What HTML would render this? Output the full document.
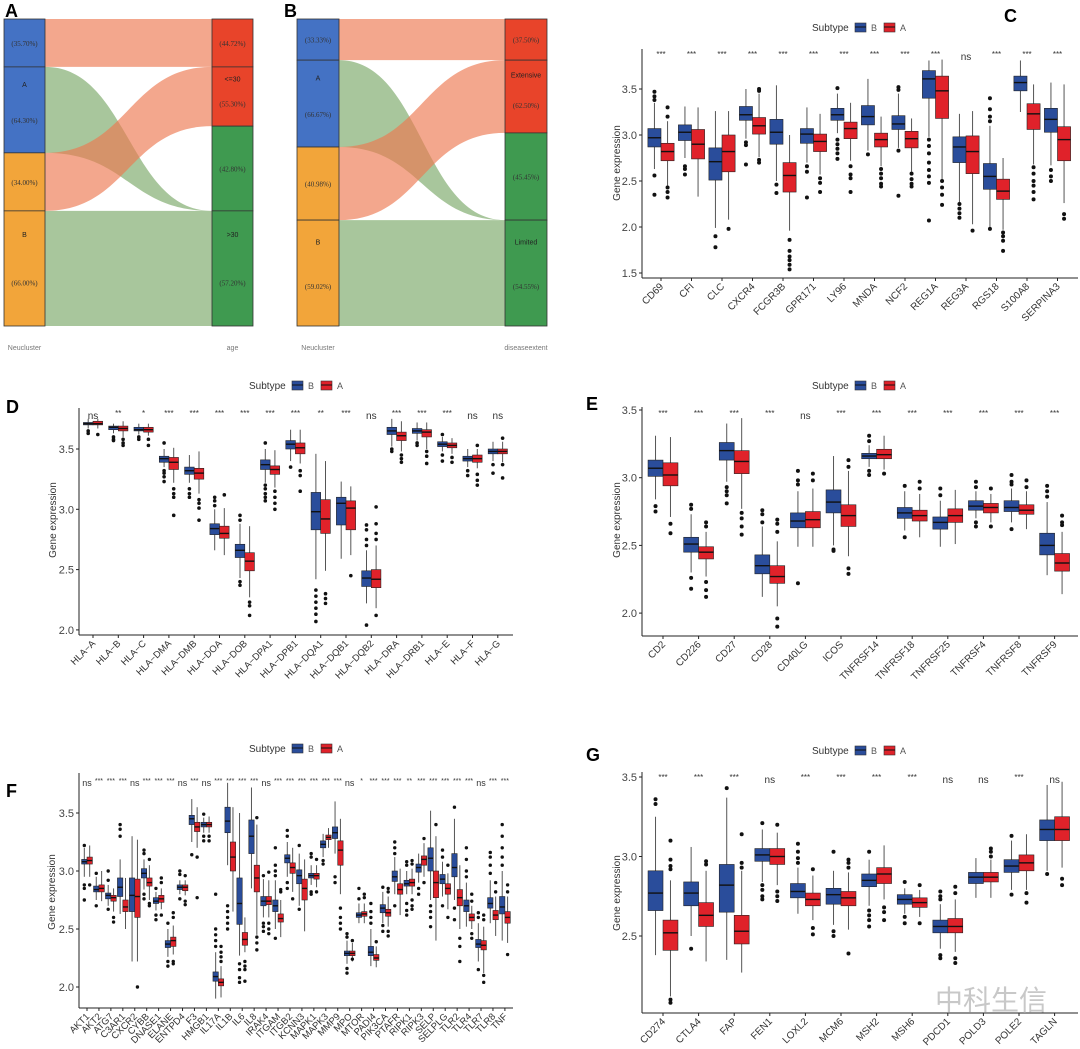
<!DOCTYPE html>
<html><head><meta charset="utf-8"><style>
html,body{margin:0;padding:0;background:#fff;}
svg{display:block;font-family:"Liberation Sans","Noto Sans CJK SC",sans-serif;}
</style></head><body>
<svg id="fig" width="1080" height="1049" viewBox="0 0 1080 1049" xmlns="http://www.w3.org/2000/svg">
<rect width="1080" height="1049" fill="#fff"/>
<g id="labels">
<text x="5" y="17" font-size="18" font-weight="bold">A</text>
<text x="284" y="17" font-size="18" font-weight="bold">B</text>
<text x="1004" y="22" font-size="18" font-weight="bold">C</text>
<text x="6" y="413" font-size="18" font-weight="bold">D</text>
<text x="586" y="410" font-size="18" font-weight="bold">E</text>
<text x="6" y="797" font-size="18" font-weight="bold">F</text>
<text x="586" y="761" font-size="18" font-weight="bold">G</text>
<text x="935" y="1010" font-size="28" fill="#c8c8c8">中科生信</text>
</g>
</svg>
<script>
// ---------- Sankey data ----------
const sankeyALeft = [0.156, 0.436, 0.625];
const sankeyARight = [0.156, 0.349, 0.625];
const sankeyBLeft = [0.134, 0.417, 0.655];
const sankeyBRight = [0.134, 0.371, 0.655];
const sankeyALeftText = [["(35.70%)"],["A","(64.30%)"],["(34.00%)"],["B","(66.00%)"]];
const sankeyARightText = [["(44.72%)"],["<=30","(55.30%)"],["(42.80%)"],[">30","(57.20%)"]];
const sankeyBLeftText = [["(33.33%)"],["A","(66.67%)"],["(40.98%)"],["B","(59.02%)"]];
const sankeyBRightText = [["(37.50%)"],["Extensive","(62.50%)"],["(45.45%)"],["Limited","(54.55%)"]];

// ---------- Panel C ----------
const cGenes = ["CD69","CFI","CLC","CXCR4","FCGR3B","GPR171","LY96","MNDA","NCF2","REG1A","REG3A","RGS18","S100A8","SERPINA3"];
const cSig = ["***","***","***","***","***","***","***","***","***","***","ns","***","***","***"];
const cB = [[2.87,2.97,3.07,2.63,3.35],[2.94,3.03,3.11,2.75,3.31],[2.51,2.71,2.86,1.99,3.26],[3.16,3.22,3.31,2.96,3.5],[2.9,3.03,3.17,2.5,3.54],[2.91,3.01,3.07,2.7,3.3],[3.16,3.22,3.29,3.02,3.45],[3.11,3.2,3.32,2.83,3.61],[3.06,3.12,3.21,2.86,3.45],[3.4,3.61,3.7,2.98,3.81],[2.7,2.87,2.98,2.27,3.23],[2.41,2.55,2.69,2.0,3.1],[3.48,3.57,3.64,3.25,3.81],[3.03,3.17,3.29,2.67,3.57]];
const cA = [[2.72,2.82,2.91,2.45,3.15],[2.74,2.9,3.06,2.33,3.3],[2.6,2.82,3.0,2.08,3.26],[3.01,3.1,3.19,2.76,3.45],[2.38,2.56,2.7,1.96,3.0],[2.82,2.93,3.01,2.57,3.23],[2.96,3.07,3.14,2.72,3.35],[2.87,2.95,3.02,2.66,3.2],[2.86,2.96,3.04,2.6,3.18],[3.18,3.48,3.64,2.52,3.82],[2.58,2.82,2.99,2.03,3.26],[2.3,2.39,2.52,1.97,2.75],[3.06,3.23,3.34,2.68,3.55],[2.72,2.95,3.09,2.26,3.55]];
const cBOut = [[3.38,3.42,3.47,2.56,2.35],[2.66,2.63,2.57],[1.9,1.78],[2.92,2.89,2.68],[2.46,2.37],[2.66,2.6,2.32],[3.51,2.95,2.9,2.85,2.8,2.74],[2.79],[3.52,3.49,2.83,2.34],[2.95,2.88,2.8,2.7,2.62,2.55,2.48,2.07],[2.25,2.2,2.15,2.1],[3.4,3.28,3.2,3.15,1.98],[],[2.62,2.55,2.5]];
const cAOut = [[3.2,3.3,2.43,2.38,2.32],[],[1.98],[3.48,3.5,2.73,2.7],[1.86,1.74,1.68,1.64,1.59,1.54],[2.53,2.48,2.38],[2.66,2.57,2.53,2.38],[2.63,2.58,2.53,2.47,2.44],[2.58,2.52,2.47,2.44],[2.5,2.43,2.35,2.24],[1.96],[1.94,1.9,1.85,1.74],[2.65,2.58,2.5,2.45,2.38,2.3],[2.14,2.09]];
const cTicks = [3.5,3.0,2.5,2.0,1.5];

// ---------- Panel D ----------
const dGenes = ["HLA\u2212A","HLA\u2212B","HLA\u2212C","HLA\u2212DMA","HLA\u2212DMB","HLA\u2212DOA","HLA\u2212DOB","HLA\u2212DPA1","HLA\u2212DPB1","HLA\u2212DQA1","HLA\u2212DQB1","HLA\u2212DQB2","HLA\u2212DRA","HLA\u2212DRB1","HLA\u2212E","HLA\u2212F","HLA\u2212G"];
const dSig = ["ns","**","*","***","***","***","***","***","***","**","***","ns","***","***","***","ns","ns"];
const dB = [[3.7,3.71,3.72,3.67,3.75],[3.66,3.68,3.69,3.63,3.71],[3.65,3.66,3.68,3.62,3.71],[3.39,3.42,3.44,3.35,3.5],[3.29,3.32,3.35,3.22,3.45],[2.79,2.84,2.88,2.66,3.0],[2.6,2.66,2.71,2.43,2.88],[3.33,3.37,3.41,3.22,3.5],[3.5,3.54,3.57,3.4,3.66],[2.83,2.98,3.14,2.42,3.46],[2.87,3.05,3.1,2.59,3.23],[2.36,2.43,2.49,2.22,2.66],[3.62,3.65,3.68,3.52,3.75],[3.63,3.65,3.67,3.57,3.72],[3.52,3.54,3.56,3.48,3.6],[3.4,3.42,3.44,3.35,3.5],[3.46,3.48,3.5,3.4,3.56]];
const dA = [[3.7,3.71,3.73,3.67,3.75],[3.65,3.67,3.69,3.6,3.73],[3.64,3.66,3.68,3.61,3.71],[3.33,3.39,3.43,3.22,3.51],[3.25,3.3,3.34,3.13,3.48],[2.76,2.8,2.86,2.62,3.01],[2.49,2.57,2.64,2.27,2.86],[3.29,3.33,3.36,3.18,3.49],[3.46,3.51,3.55,3.38,3.66],[2.8,2.92,3.08,2.49,3.4],[2.83,3.01,3.07,2.62,3.19],[2.35,2.42,2.5,2.18,2.7],[3.57,3.61,3.64,3.48,3.73],[3.6,3.64,3.66,3.5,3.72],[3.51,3.53,3.55,3.46,3.59],[3.39,3.42,3.45,3.34,3.5],[3.46,3.48,3.5,3.39,3.56]];
const dBOut = [[3.65,3.63],[3.6,3.58,3.57],[3.6,3.58],[3.55,3.32,3.3,3.27,3.23],[3.17,3.13,3.1],[3.03,3.07,3.1],[2.91,2.95,2.4,2.37],[3.55,3.2,3.17,3.13,3.1,3.07],[3.35],[2.33,2.28,2.23,2.18,2.13,2.07],[],[2.75,2.7,2.83,2.87,2.04],[3.5,3.48],[3.55,3.53],[3.45,3.4,3.62],[3.32,3.28],[3.37,3.3]];
const dAOut = [[3.62],[3.58,3.55,3.53],[3.58,3.53],[3.17,3.13,3.1,2.95],[3.08,3.05,3.01,2.91],[3.12],[2.23,2.2,2.12],[3.15,3.1,3.05,3.0],[3.32,3.28,3.15],[2.3,2.26,2.22],[2.45],[2.75,2.8,2.88,3.02,2.12],[3.45,3.42,3.39],[3.48,3.44,3.38],[3.43,3.39],[3.29,3.24,3.2,3.53],[3.59,3.37,3.26]];
const dTicks = [3.5,3.0,2.5,2.0];

// ---------- Panel E ----------
const eGenes = ["CD2","CD226","CD27","CD28","CD40LG","ICOS","TNFRSF14","TNFRSF18","TNFRSF25","TNFRSF4","TNFRSF8","TNFRSF9"];
const eSig = ["***","***","***","***","ns","***","***","***","***","***","***","***"];
const eB = [[3.01,3.07,3.13,2.84,3.31],[2.45,2.51,2.56,2.3,2.73],[3.13,3.2,3.26,2.97,3.4],[2.29,2.35,2.43,2.12,2.64],[2.63,2.68,2.74,2.49,2.9],[2.74,2.82,2.91,2.5,3.16],[3.14,3.16,3.18,3.08,3.24],[2.7,2.74,2.78,2.61,2.9],[2.62,2.67,2.71,2.49,2.83],[2.76,2.79,2.83,2.7,2.9],[2.75,2.78,2.83,2.67,2.92],[2.43,2.5,2.59,2.28,2.82]];
const eA = [[2.94,3.02,3.11,2.71,3.3],[2.4,2.45,2.49,2.27,2.6],[3.03,3.12,3.2,2.77,3.44],[2.22,2.27,2.35,2.05,2.53],[2.63,2.69,2.75,2.49,2.92],[2.64,2.72,2.8,2.42,3.05],[3.14,3.17,3.21,3.06,3.31],[2.68,2.72,2.76,2.56,2.88],[2.67,2.72,2.77,2.51,2.91],[2.74,2.78,2.81,2.67,2.88],[2.73,2.76,2.8,2.62,2.9],[2.31,2.37,2.44,2.14,2.6]];
const eBOut = [[2.79,2.75],[2.8,2.77,2.26,2.18],[2.93,2.9,2.87,2.81],[2.67,2.73,2.76],[2.95,2.98,3.05,2.22],[2.47,2.46],[3.27,3.31,3.05,3.02],[2.94,2.56],[2.87,2.92],[2.93,2.97,2.67,2.64],[2.95,2.97,3.02,2.62],[2.86,2.9,2.94]];
const eAOut = [[2.66,2.59],[2.67,2.64,2.23,2.17,2.12],[2.74,2.7,2.64,2.58],[2.6,2.66,2.69,1.96,1.9],[2.98,3.03],[3.08,3.13,2.33,2.29],[3.03],[2.92,2.97],[],[2.92,2.64],[2.93,2.98],[2.65,2.67,2.72]];
const eTicks = [3.5,3.0,2.5,2.0];

// ---------- Panel F ----------
const fGenes = ["AKT1","AKT2","ATG7","C3AR1","CXCR2","CYBB","DNASE1","ELANE","ENTPD4","F3","HMGB1","IL17A","IL1B","IL6","IL8","IRAK4","ITGAM","ITGB2","KCNN3","MAPK1","MAPK3","MMP9","MPO","MTOR","PADI4","PIK3CA","PTAFR","RIPK1","RIPK3","SELP","SELPLG","TLR2","TLR4","TLR7","TLR8","TNF"];
const fSig = ["ns","***","***","***","ns","***","***","***","ns","***","ns","***","***","***","***","ns","***","***","***","***","***","***","ns","*","***","***","***","**","***","***","***","***","***","ns","***","***"];
const fB = [[3.06,3.08,3.1,2.95,3.2],[2.82,2.84,2.87,2.75,2.95],[2.76,2.79,2.81,2.7,2.88],[2.78,2.86,2.94,2.63,3.1],[2.65,2.79,2.94,2.22,3.3],[2.94,2.98,3.02,2.84,3.1],[2.72,2.74,2.77,2.66,2.82],[2.34,2.37,2.4,2.26,2.5],[2.84,2.86,2.88,2.8,2.92],[3.4,3.45,3.48,3.25,3.62],[3.38,3.4,3.42,3.33,3.46],[2.05,2.09,2.13,1.9,2.3],[3.33,3.43,3.55,3.05,3.76],[2.54,2.72,2.94,2.27,3.5],[3.15,3.3,3.44,2.85,3.72],[2.7,2.74,2.78,2.6,2.93],[2.65,2.7,2.75,2.5,2.92],[3.07,3.11,3.14,2.95,3.25],[2.89,2.96,3.01,2.7,3.15],[2.94,2.96,2.98,2.88,3.05],[3.2,3.23,3.26,3.12,3.32],[3.28,3.33,3.38,3.15,3.6],[2.27,2.29,2.31,2.2,2.4],[2.6,2.62,2.64,2.55,2.72],[2.27,2.3,2.35,2.18,2.5],[2.64,2.68,2.71,2.55,2.82],[2.91,2.95,3.0,2.8,3.12],[2.87,2.89,2.92,2.8,3.0],[2.99,3.03,3.06,2.9,3.15],[3.0,3.11,3.2,2.75,3.52],[2.89,2.93,2.97,2.78,3.08],[2.95,3.03,3.15,2.75,3.45],[2.65,2.7,2.75,2.52,2.9],[2.34,2.37,2.41,2.22,2.55],[2.68,2.72,2.77,2.55,2.92],[2.63,2.69,2.78,2.4,3.0]];
const fA = [[3.06,3.09,3.12,2.95,3.22],[2.82,2.85,2.88,2.74,3.0],[2.74,2.77,2.79,2.65,2.85],[2.65,2.69,2.75,2.5,2.94],[2.6,2.78,2.93,2.22,3.27],[2.87,2.9,2.94,2.75,3.05],[2.73,2.76,2.79,2.67,2.85],[2.35,2.4,2.43,2.28,2.53],[2.83,2.86,2.88,2.79,2.92],[3.34,3.38,3.42,3.2,3.55],[3.38,3.4,3.42,3.33,3.47],[2.01,2.04,2.07,1.91,2.18],[3.0,3.12,3.25,2.65,3.55],[2.36,2.41,2.47,2.3,2.6],[2.82,2.94,3.05,2.45,3.4],[2.71,2.74,2.78,2.6,2.92],[2.56,2.59,2.63,2.43,2.75],[2.98,3.03,3.07,2.82,3.2],[2.75,2.85,2.93,2.48,3.1],[2.93,2.96,2.98,2.86,3.05],[3.27,3.29,3.31,3.2,3.37],[3.05,3.18,3.26,2.8,3.45],[2.27,2.29,2.31,2.22,2.38],[2.61,2.63,2.65,2.55,2.72],[2.23,2.25,2.28,2.17,2.35],[2.61,2.64,2.67,2.52,2.78],[2.8,2.84,2.89,2.62,3.02],[2.87,2.9,2.93,2.8,3.02],[3.05,3.1,3.13,2.95,3.24],[2.77,2.9,3.0,2.4,3.3],[2.8,2.85,2.89,2.67,2.98],[2.7,2.77,2.84,2.5,3.05],[2.57,2.6,2.63,2.5,2.7],[2.32,2.36,2.4,2.12,2.52],[2.58,2.62,2.66,2.44,2.78],[2.55,2.6,2.65,2.38,2.78]];
const fBOut = [[3.22,2.88,2.85,2.75],[2.98,2.7],[2.92,3.0,2.67],[3.3,3.36,3.4],[],[3.15,3.18,2.8,2.76],[2.85,2.62,2.58],[2.55,2.22,2.18],[2.97,3.0,2.76],[3.14],[3.49,3.3,3.26],[2.35,2.4,2.45,2.5,2.8],[2.7,2.65,2.6,2.55,2.5],[2.2,2.15,2.08,2.04],[],[2.96,2.55,2.52,2.48],[2.96,3.0,3.05,3.2,2.42],[3.3,3.35,2.85,2.9],[2.67,3.22],[3.12,3.15,2.82,2.8],[3.09,3.06],[2.95,2.9],[2.43,2.46,2.16,2.12],[2.76,2.85],[2.55,2.6,2.65,2.72],[2.86,2.53,2.48],[3.15,3.2,3.25,2.7],[3.05,3.08,2.72,2.66,2.62],[2.85,2.8],[2.7,2.65,2.6,2.52],[3.12,3.18,2.7],[3.55,2.68,2.58],[2.95,3.0,3.1,3.2],[2.6,2.64,2.15],[2.98,3.05,3.12,3.16],[3.05,3.12,3.2,3.3,3.4]];
const fAOut = [[2.88],[],[2.6,2.56],[],[2.0],[3.1,2.72,2.7],[2.9,2.94,2.62],[2.6,2.64,2.22,2.2],[2.96,2.74,2.71],[3.12,2.77],[3.3,3.26],[2.22,2.26,2.3,2.35],[],[2.22,2.18,2.15,2.05],[3.46,2.43,2.38,2.32],[2.99,2.55,2.5,2.46],[2.82,2.84],[2.76],[],[3.1,2.82],[],[2.68,2.6,2.55,2.5],[2.4,2.24],[2.77,2.8],[2.39],[2.82,2.85,2.48,2.44],[],[3.06,3.09,2.75,2.7,2.67],[3.28,2.9],[3.4],[3.05,2.6],[2.42,2.35,2.22],[2.74,2.8,2.46,2.42],[2.58,2.62,2.1,2.04],[2.82,2.9],[2.82,2.88,2.28]];
const fTicks = [3.5,3.0,2.5,2.0];

// ---------- Panel G ----------
const gGenes = ["CD274","CTLA4","FAP","FEN1","LOXL2","MCM6","MSH2","MSH6","PDCD1","POLD3","POLE2","TAGLN"];
const gSig = ["***","***","***","ns","***","***","***","***","ns","ns","***","ns"];
const gB = [[2.66,2.77,2.91,2.38,3.25],[2.69,2.77,2.84,2.5,3.06],[2.65,2.82,2.95,2.35,3.37],[2.97,3.01,3.05,2.84,3.17],[2.74,2.78,2.83,2.64,2.93],[2.7,2.76,2.8,2.57,2.91],[2.81,2.85,2.89,2.69,2.98],[2.7,2.73,2.76,2.64,2.8],[2.52,2.56,2.6,2.42,2.7],[2.83,2.87,2.9,2.74,2.99],[2.9,2.94,2.98,2.79,3.1],[3.1,3.17,3.23,2.91,3.45]];
const gA = [[2.41,2.52,2.6,2.12,2.85],[2.56,2.63,2.71,2.34,2.91],[2.45,2.53,2.63,2.27,2.91],[2.95,3.0,3.05,2.82,3.15],[2.69,2.73,2.77,2.6,2.88],[2.69,2.74,2.78,2.54,2.9],[2.83,2.89,2.93,2.73,3.07],[2.68,2.71,2.74,2.62,2.79],[2.52,2.56,2.61,2.4,2.73],[2.84,2.87,2.9,2.74,2.98],[2.91,2.96,3.01,2.79,3.14],[3.1,3.17,3.25,2.93,3.47]];
const gBOut = [[3.33,3.36],[2.42],[3.43],[3.21,2.82,2.79,2.75,2.73],[2.96,2.99,3.03,3.08],[3.03,2.53,2.5],[3.03,2.66,2.63,2.6,2.56],[2.84,2.62,2.58],[2.73,2.75,2.78,2.38,2.36],[],[3.13,2.76],[2.89]];
const gAOut = [[2.92,2.94,2.98,3.1,2.1,2.08],[2.95,2.97],[2.93,2.96,3.14],[3.2,2.78,2.75,2.72],[2.92,2.55,2.51],[2.93,2.96,2.98,2.39],[2.68,2.65,2.6],[2.82,2.58],[2.77,2.81,2.36,2.33],[3.0,3.03,3.05],[2.77,2.71],[2.86,2.82]];
const gTicks = [3.5,3.0,2.5];

const NS = "http://www.w3.org/2000/svg";
const svg = document.getElementById("fig");
function mk(tag, attrs, parent) {
  const e = document.createElementNS(NS, tag);
  for (const k in attrs) e.setAttribute(k, attrs[k]);
  (parent || svg).appendChild(e);
  return e;
}

// ---------- Sankey ----------
function drawSankey(g, lx, rx, bw, top, bot, lf, rf, lText, rText, leftName, rightName, key) {
  const H = bot - top;
  const yl = [top].concat(lf.map(f => top + f * H)).concat([bot]);
  const yr = [top].concat(rf.map(f => top + f * H)).concat([bot]);
  const x1 = lx + bw, x2 = rx, mx = (x1 + x2) / 2;
  const flows = [
    [yl[0], yl[1], yr[0], yr[1], "salmon"],
    [yl[1], yl[2], yr[3], yr[4] - (yl[4]-yl[3]), "green"],
    [yl[3], yl[4], yr[4] - (yl[4]-yl[3]), yr[4], "green"],
    [yl[2], yl[3], yr[1], yr[2], "salmon"]
  ];
  flows.forEach((f, i) => {
    const d = `M${x1},${f[0]} C${mx},${f[0]} ${mx},${f[2]} ${x2},${f[2]} L${x2},${f[3]} C${mx},${f[3]} ${mx},${f[1]} ${x1},${f[1]} Z`;
    const p = mk("path", {d: d, fill: f[4] === "salmon" ? "rgb(236,120,80)" : "rgb(110,160,90)", "fill-opacity": f[4] === "salmon" ? 0.65 : 0.6}, g);
    
    
  });
  const lc = ["#4472c4", "#4472c4", "#f2a53a", "#f2a53a"];
  const rc = ["#e8442a", "#e8442a", "#3f9a50", "#3f9a50"];
  for (let i = 0; i < 4; i++) {
    const r1 = mk("rect", {x: lx, y: yl[i], width: bw, height: yl[i+1]-yl[i], fill: lc[i], stroke: "#333", "stroke-width": 0.8}, g);
    
    
    const r2 = mk("rect", {x: rx, y: yr[i], width: bw, height: yr[i+1]-yr[i], fill: rc[i], stroke: "#333", "stroke-width": 0.8}, g);
    
    
  }
  function labels(x, ys, texts, side) {
    for (let i = 0; i < 4; i++) {
      const t = texts[i];
      const y0 = ys[i], y1 = ys[i+1];
      if (t.length === 1) {
        const e = mk("text", {x: x, y: (y0 + y1) / 2 + 3, "font-size": 7, "text-anchor": "middle", fill: "#333", "font-family": "Liberation Serif, serif"}, g);
        e.textContent = t[0];
        
        
      } else {
        const a = mk("text", {x: x, y: y0 + (y1 - y0) * 0.2 + 3, "font-size": 7, "text-anchor": "middle", fill: "#222"}, g);
        a.textContent = t[0];
        
        
        const b = mk("text", {x: x, y: y0 + (y1 - y0) * 0.62 + 3, "font-size": 7, "text-anchor": "middle", fill: "#333", "font-family": "Liberation Serif, serif"}, g);
        b.textContent = t[1];
        
        
      }
    }
  }
  labels(lx + bw / 2, yl, lText, "left");
  labels(rx + bw / 2, yr, rText, "right");
  const n1 = mk("text", {x: lx + bw / 2, y: 350, "font-size": 7, "text-anchor": "middle", fill: "#777"}, g);
  n1.textContent = leftName;
  
  
  const n2 = mk("text", {x: rx + bw / 2, y: 350, "font-size": 7, "text-anchor": "middle", fill: "#777"}, g);
  n2.textContent = rightName;
  
  
}
const gA_ = mk("g", {});


drawSankey(gA_, 4, 212, 41, 19, 326, sankeyALeft, sankeyARight, sankeyALeftText, sankeyARightText, "Neucluster", "age", "sankey-a");
const gB_ = mk("g", {});


drawSankey(gB_, 297, 505, 42, 19, 326, sankeyBLeft, sankeyBRight, sankeyBLeftText, sankeyBRightText, "Neucluster", "diseaseextent", "sankey-b");

// ---------- Boxplot panels ----------
function drawPanel(p) {
  const g = mk("g", {});
  
  
  const y = v => p.yRef - (v - p.vRef) * p.ppu;
  const xc = i => p.cx0 + i * p.sp;
  const w = p.sp * p.bwf;
  const ya = mk("line", {x1: p.ax, y1: p.top, x2: p.ax, y2: p.bot, stroke: "#222", "stroke-width": 1}, g);
  
  
  const xa = mk("line", {x1: p.ax, y1: p.bot, x2: p.ar, y2: p.bot, stroke: "#222", "stroke-width": 1}, g);
  
  
  p.ticks.forEach(t => {
    const tm = mk("line", {x1: p.ax - 3, y1: y(t), x2: p.ax, y2: y(t), stroke: "#222", "stroke-width": 1}, g);
    
    
    const tl = mk("text", {x: p.ax - 5, y: y(t) + 4, "font-size": 11, "text-anchor": "end", fill: "#444"}, g);
    tl.textContent = t.toFixed(1);
    
    
  });
  const yt = mk("text", {x: p.titleX, y: p.titleY, "font-size": 10, "text-anchor": "middle", fill: "#333", transform: `rotate(-90 ${p.titleX} ${p.titleY})`}, g);
  yt.textContent = "Gene expression";
  
  
  const lg = mk("g", {}, g);
  
  
  const lt = mk("text", {x: p.legX, y: p.legY + 4, "font-size": 10, fill: "#333"}, lg);
  lt.textContent = "Subtype";
  
  
  [["B", "#2a4d9b", 43], ["A", "#e0222a", 72]].forEach(s => {
    const bx = p.legX + s[2];
    const r = mk("rect", {x: bx, y: p.legY - 4, width: 11, height: 9, fill: s[1], stroke: "#333", "stroke-width": 0.6}, lg);
    
    
    mk("line", {x1: bx, y1: p.legY, x2: bx + 11, y2: p.legY, stroke: "#111", "stroke-width": 1}, lg);
    const tx = mk("text", {x: bx + 16, y: p.legY + 4, "font-size": 9, fill: "#555"}, lg);
    tx.textContent = s[0];
    
    
  });
  p.genes.forEach((gene, i) => {
    const c = xc(i);
    [[p.B, p.BO, c - w / 2, "#2a4d9b", "b"], [p.A, p.AO, c + w / 2, "#e0222a", "a"]].forEach(s => {
      const d = s[0][i];
      const bx = s[2];
      const wl = mk("line", {x1: bx, y1: y(d[3]), x2: bx, y2: y(d[4]), stroke: "#555", "stroke-width": 1}, g);
      
      
      const r = mk("rect", {x: bx - w / 2, y: y(d[2]), width: w, height: Math.max(0.5, y(d[0]) - y(d[2])), fill: s[3], stroke: "#222", "stroke-width": 0.6}, g);
      
      
      const m = mk("line", {x1: bx - w / 2, y1: y(d[1]), x2: bx + w / 2, y2: y(d[1]), stroke: "#111", "stroke-width": 1.4}, g);
      
      
      s[1][i].forEach(o => {
        const pt = mk("circle", {cx: bx, cy: y(o), r: p.pr, fill: "#111"}, g);
        
        
      });
    });
    const sg = mk("text", {x: c, y: p.sigY + (p.sig[i] === "ns" ? 3 : 0), "font-size": p.sig[i] === "ns" ? p.nsf : p.stf, "text-anchor": "middle", fill: "#333"}, g);
    sg.textContent = p.sig[i];
    
    
    const tk = mk("line", {x1: c, y1: p.bot, x2: c, y2: p.bot + 3, stroke: "#222", "stroke-width": 1}, g);
    
    
    const lx = c + 3, ly = p.bot + 9;
    const xl = mk("text", {x: lx, y: ly, "font-size": p.xf, "text-anchor": "end", fill: "#333", transform: `rotate(-45 ${lx} ${ly})`}, g);
    xl.textContent = gene;
    
    
  });
}

drawPanel({key: "boxplot-c", genes: cGenes, sig: cSig, B: cB, A: cA, BO: cBOut, AO: cAOut, ticks: cTicks,
  ax: 642, ar: 1078, top: 49, bot: 278, yRef: 89, vRef: 3.5, ppu: 92, cx0: 661, sp: 30.5, bwf: 0.43, pr: 2,
  sigY: 57, legX: 812, legY: 27, titleX: 620, titleY: 163, xf: 10, nsf: 10, stf: 8});
drawPanel({key: "boxplot-d", genes: dGenes, sig: dSig, B: dB, A: dA, BO: dBOut, AO: dAOut, ticks: dTicks,
  ax: 79, ar: 513, top: 408, bot: 635, yRef: 449, vRef: 3.5, ppu: 120.6, cx0: 93, sp: 25.3, bwf: 0.38, pr: 1.8,
  sigY: 416, legX: 249, legY: 385, titleX: 56, titleY: 520, xf: 9.5, nsf: 10, stf: 8});
drawPanel({key: "boxplot-e", genes: eGenes, sig: eSig, B: eB, A: eA, BO: eBOut, AO: eAOut, ticks: eTicks,
  ax: 642, ar: 1078, top: 407, bot: 636, yRef: 410, vRef: 3.5, ppu: 135.4, cx0: 663, sp: 35.6, bwf: 0.42, pr: 2,
  sigY: 416, legX: 812, legY: 385, titleX: 620, titleY: 520, xf: 10, nsf: 10, stf: 8});
drawPanel({key: "boxplot-f", genes: fGenes, sig: fSig, B: fB, A: fA, BO: fBOut, AO: fAOut, ticks: fTicks,
  ax: 79, ar: 513, top: 773, bot: 1008, yRef: 813, vRef: 3.5, ppu: 116, cx0: 87, sp: 11.94, bwf: 0.45, pr: 1.7,
  sigY: 783, legX: 249, legY: 748, titleX: 55, titleY: 892, xf: 9.5, nsf: 9, stf: 7});
drawPanel({key: "boxplot-g", genes: gGenes, sig: gSig, B: gB, A: gA, BO: gBOut, AO: gAOut, ticks: gTicks,
  ax: 642, ar: 1078, top: 772, bot: 1013, yRef: 777, vRef: 3.5, ppu: 159, cx0: 663, sp: 35.6, bwf: 0.42, pr: 2,
  sigY: 780, legX: 812, legY: 750, titleX: 620, titleY: 893, xf: 10, nsf: 10, stf: 8});

// bring panel labels to front
svg.appendChild(document.getElementById("labels"));
</script>
</body></html>
